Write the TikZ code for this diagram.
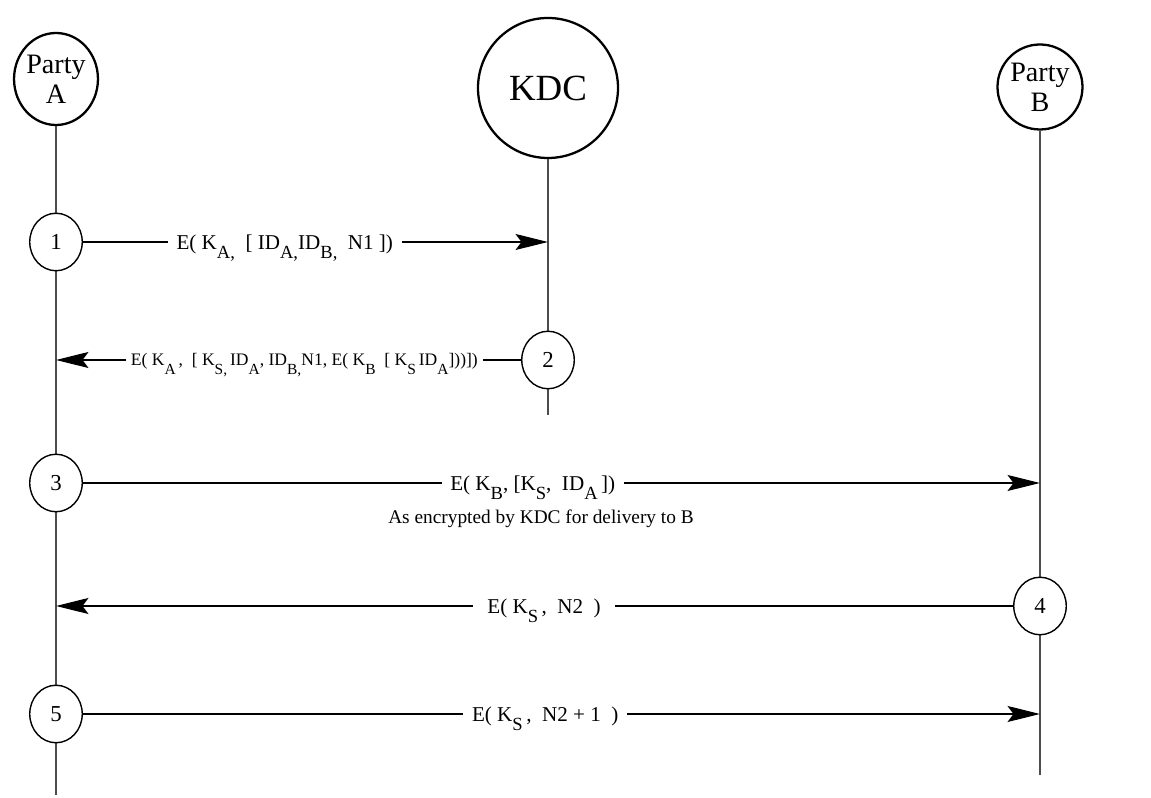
\documentclass[tikz,border=0pt]{standalone}
\usepackage{fontspec}
\usepackage{graphicx}
\setmainfont{Liberation Serif}
\usetikzlibrary{arrows.meta,shapes.geometric}
\newcommand{\dsub}[1]{\raisebox{-1.0ex}{\scalebox{0.88}{#1}}}
\newcommand{\gap}{\hspace{0.5em}}

\begin{document}
\begin{tikzpicture}[
	party/.style={draw,line width=1.3pt,ellipse,inner sep=0pt,align=center,font=\fontsize{16}{17}\selectfont},
	stepnode/.style={draw,line width=0.8pt,ellipse,fill=white,minimum width=1.05cm,minimum height=1.15cm,inner sep=0pt,font=\fontsize{13}{14}\selectfont},
	life/.style={draw=black!70,line width=0.9pt},
	msg/.style={line width=0.8pt,-{Stealth[length=6.5mm,width=3.2mm,inset=1.2mm]}},
	lbl/.style={fill=white,inner xsep=5pt,inner ysep=2pt,anchor=base,yshift=-4pt,font=\fontsize{12}{14}\selectfont}
	]
	\useasboundingbox (0,0) rectangle (23.02,15.96);
	% the three parties
	\node[party,minimum width=1.62cm,minimum height=1.84cm] (pa) at (1.12,14.38) {Party\\A};
	\node[party,circle,minimum size=2.8cm,font=\fontsize{21}{22}\selectfont] (kdc) at (10.96,14.2) {KDC};
	\node[party,circle,minimum size=1.7cm] (pb) at (20.8,14.22) {Party\\B};
	\coordinate (pa end) at (1.12,0.06);
	\coordinate (kdc end) at (10.96,7.66);
	\coordinate (pb end) at (20.8,0.46);
	\draw[life] (pa) -- (pa end);
	\draw[life] (kdc) -- (kdc end);
	\draw[life] (pb) -- (pb end);
	% numbered steps
	\foreach \n/\x/\y in {1/1.12/11.12, 2/10.96/8.76, 3/1.12/6.3, 4/20.8/3.84, 5/1.12/1.68}{
		\node[stepnode] (s\n) at (\x,\y) {\n};
	}
	\draw[msg] (s1) -- (s1 -| kdc) node[lbl,pos=0.434] {E( K\dsub{A,}\gap[ ID\dsub{A,}ID\dsub{B,}\gap N1 ])};
	\draw[msg] (s2) -- (s2 -| pa) node[lbl,pos=0.466,yshift=0.6pt,inner xsep=3pt,font=\fontsize{10}{12}\selectfont] {E( K\dsub{A}\,,\gap[ K\dsub{S,}\,ID\dsub{A}, ID\dsub{B,}N1, E( K\dsub{B}\gap[ K\dsub{S}\,ID\dsub{A}]))])};
	\draw[msg] (s3) -- (s3 -| pb) node[lbl,pos=0.47] {E( K\dsub{B}, [K\dsub{S},\gap ID\dsub{A}\,])};
	\node[font=\fontsize{11}{13}\selectfont] (note) at (10.82,5.58) {As encrypted by KDC for delivery to B};
	\draw[msg] (s4) -- (s4 -| pa) node[lbl,pos=0.49,inner xsep=8pt] {E( K\dsub{S}\,,\gap N2\gap)};
	\draw[msg] (s5) -- (s5 -| pb) node[lbl,pos=0.483] {E( K\dsub{S}\,,\gap N2 + 1\gap)};
\end{tikzpicture}
\end{document}
